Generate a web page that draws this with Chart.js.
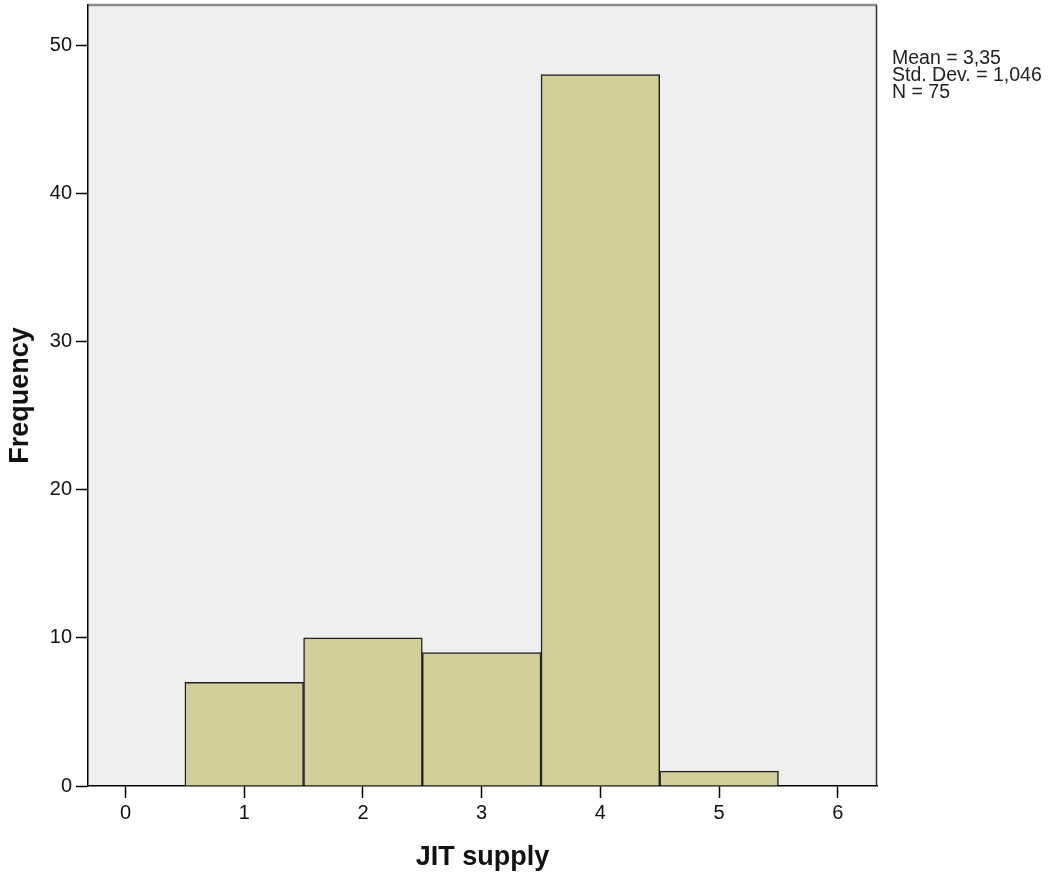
<!DOCTYPE html>
<html>
<head>
<meta charset="utf-8">
<script src="https://cdn.jsdelivr.net/npm/chart.js@4.4.1/dist/chart.umd.min.js"></script>
<style>
  body { margin: 0; background: #fff; }
  #wrap { width: 1056px; height: 876px; position: relative; }
</style>
</head>
<body>
<div id="wrap"><canvas id="histCanvas"></canvas></div>
<script>
var binCenters = [1, 2, 3, 4, 5];
var frequencies = [7, 10, 9, 48, 1];
var xTicks = [0, 1, 2, 3, 4, 5, 6];
var yTicks = [0, 10, 20, 30, 40, 50];
var statLines = ['Mean = 3,35', 'Std. Dev. = 1,046', 'N = 75'];

var FONT = '"Liberation Sans", Arial, sans-serif';

// plot background, frame and the stats box on the right
var framePlugin = {
  id: 'frame',
  beforeDraw: function (chart) {
    var ctx = chart.ctx;
    var a = chart.chartArea;
    ctx.save();
    ctx.fillStyle = '#efefef';
    ctx.fillRect(a.left, a.top, a.right - a.left, a.bottom - a.top);
    ctx.strokeStyle = '#8c8c8c';
    ctx.lineWidth = 2.5;
    ctx.beginPath();
    ctx.moveTo(a.left, a.top);
    ctx.lineTo(a.right, a.top);
    ctx.stroke();
    ctx.strokeStyle = '#333';
    ctx.lineWidth = 1.5;
    ctx.beginPath();
    ctx.moveTo(a.right - 0.5, a.top);
    ctx.lineTo(a.right - 0.5, a.bottom);
    ctx.stroke();
    ctx.restore();
  },
  afterDraw: function (chart) {
    var ctx = chart.ctx;
    ctx.save();
    ctx.fillStyle = '#222';
    ctx.font = '19.5px ' + FONT;
    ctx.textBaseline = 'alphabetic';
    statLines.forEach(function (line, i) {
      ctx.fillText(line, 892, 64 + i * 16.8);
    });
    ctx.restore();
  }
};

var config = {
  type: 'bar',
  data: {
    datasets: [
      {
        data: binCenters.map(function (x, i) { return { x: x, y: frequencies[i] }; }),
        backgroundColor: '#d3ce99',
        borderColor: '#222',
        borderWidth: 1.5,
        barPercentage: 1,
        categoryPercentage: 1
      }
    ]
  },
  options: {
    responsive: true,
    maintainAspectRatio: false,
    animation: false,
    layout: { padding: { top: 5, right: 179, left: 0, bottom: 0 } },
    plugins: {
      legend: { display: false },
      tooltip: { enabled: false }
    },
    scales: {
      x: {
        type: 'linear',
        min: -0.316,
        max: 6.33,
        offset: false,
        afterBuildTicks: function (scale) {
          scale.ticks = xTicks.map(function (v) { return { value: v }; });
        },
        afterFit: function (scale) {
          scale.height = 90;
          scale.paddingLeft = 0;
          scale.paddingRight = 0;
        },
        grid: { offset: false, drawOnChartArea: false, drawTicks: true, tickLength: 12, tickColor: '#000', tickWidth: 1.5 },
        border: { display: true, color: '#000', width: 1.5 },
        ticks: { color: '#111', padding: 3, maxRotation: 0, font: { family: FONT, size: 20 } },
        title: {
          display: true,
          text: 'JIT supply',
          color: '#111',
          font: { family: FONT, size: 27, weight: 'bold', lineHeight: 1.2 },
          padding: { top: 0, bottom: 2 }
        }
      },
      y: {
        min: 0,
        max: 52.7,
        afterBuildTicks: function (scale) {
          scale.ticks = yTicks.map(function (v) { return { value: v }; });
        },
        afterFit: function (scale) {
          scale.width = 88;
          scale.paddingTop = 0;
          scale.paddingBottom = 0;
        },
        grid: { drawOnChartArea: false, drawTicks: true, tickLength: 12, tickColor: '#000', tickWidth: 1.5 },
        border: { display: true, color: '#000', width: 1.5 },
        ticks: { color: '#111', padding: 4, font: { family: FONT, size: 20 } },
        title: {
          display: true,
          text: 'Frequency',
          color: '#111',
          font: { family: FONT, size: 27, weight: 'bold', lineHeight: 1.2 },
          padding: { top: 4, bottom: 0 }
        }
      }
    }
  },
  plugins: [framePlugin]
};

var ctx = document.getElementById('histCanvas');
var histChart = new Chart(ctx, config);
</script>
</body>
</html>
